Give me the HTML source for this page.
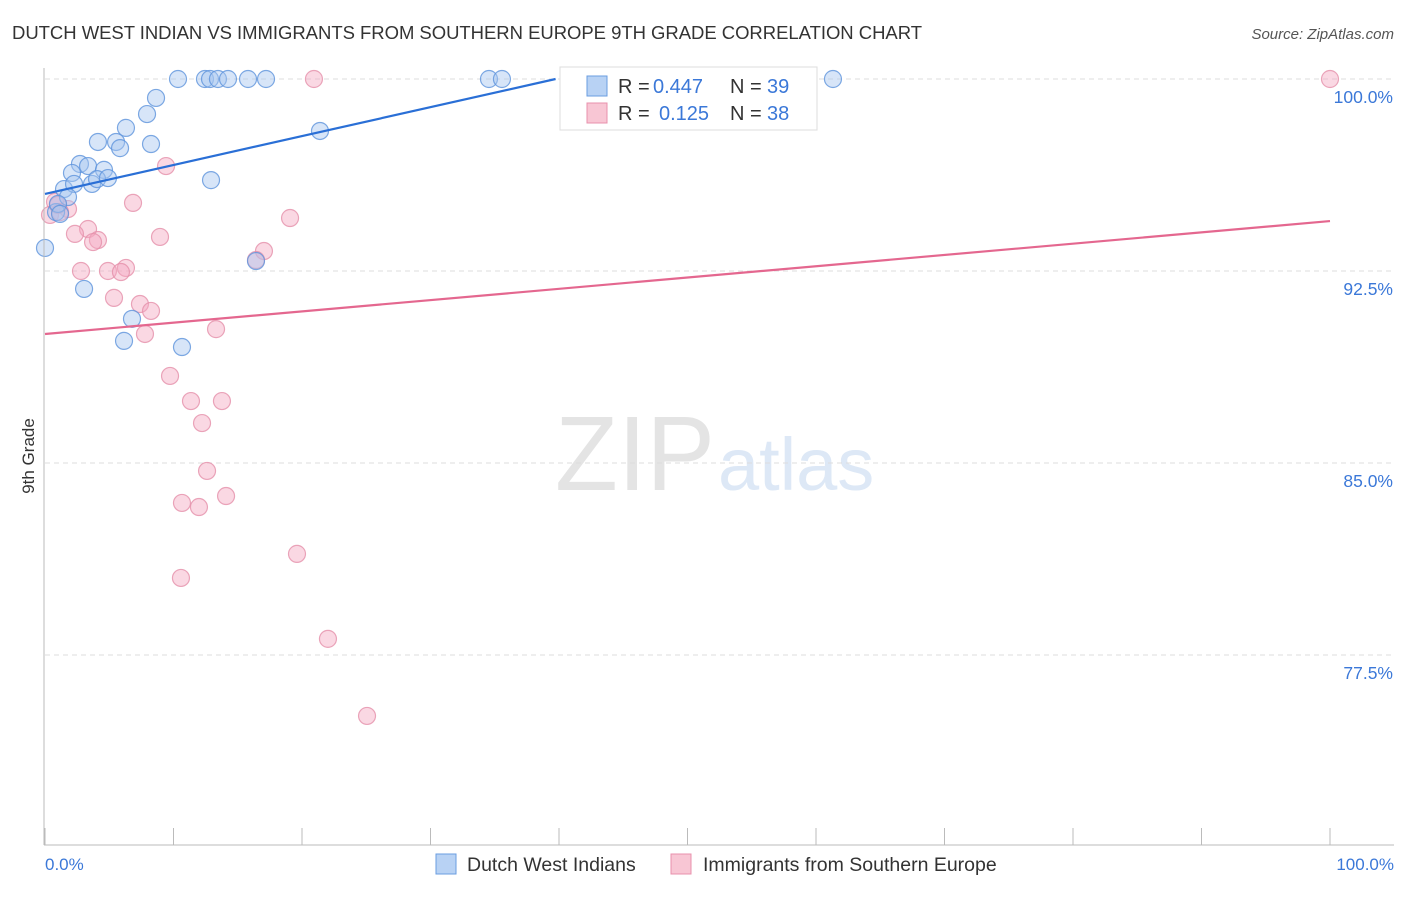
<!DOCTYPE html>
<html><head><meta charset="utf-8"><style>
body{margin:0;background:#fff;font-family:"Liberation Sans",sans-serif}
svg text{font-family:"Liberation Sans",sans-serif}
</style></head><body>
<svg id="c" width="1406" height="892">
<text x="12" y="39" font-size="18.5" fill="#333" textLength="910">DUTCH WEST INDIAN VS IMMIGRANTS FROM SOUTHERN EUROPE 9TH GRADE CORRELATION CHART</text>
<text x="1394" y="39" font-size="15" fill="#555" font-style="italic" text-anchor="end">Source: ZipAtlas.com</text>
<text x="555" y="490" font-size="106" fill="#e4e4e4" textLength="160" lengthAdjust="spacingAndGlyphs" font-family="Liberation Serif">ZIP</text>
<text x="718" y="490" font-size="74" fill="#dde8f6">atlas</text>
<text x="34" y="456" font-size="17" fill="#333" transform="rotate(-90 34 456)" text-anchor="middle">9th Grade</text>
<g id="grid"></g><g id="pts"></g><g id="lines"></g>
<line x1="44" y1="68" x2="44" y2="845" stroke="#bbb"/>
<line x1="44" y1="845" x2="1394" y2="845" stroke="#bbb"/>
<text x="45" y="870" font-size="17" fill="#3b78d8">0.0%</text>
<text x="1394" y="870" font-size="17" fill="#3b78d8" text-anchor="end">100.0%</text>
<g>
<rect x="560" y="67" width="257" height="63" fill="#fff" stroke="#ddd"/>
<rect x="587" y="76" width="20" height="20" fill="#b8d2f4" stroke="#6a9de0"/>
<rect x="587" y="103" width="20" height="20" fill="#f8c6d4" stroke="#e890ac"/>
<text x="618" y="93" font-size="20" fill="#333">R =</text>
<text x="653" y="93" font-size="20" fill="#3b78d8">0.447</text>
<text x="730" y="93" font-size="20" fill="#333">N =</text>
<text x="767" y="93" font-size="20" fill="#3b78d8">39</text>
<text x="618" y="120" font-size="20" fill="#333">R =</text>
<text x="659" y="120" font-size="20" fill="#3b78d8">0.125</text>
<text x="730" y="120" font-size="20" fill="#333">N =</text>
<text x="767" y="120" font-size="20" fill="#3b78d8">38</text>
</g>
<g>
<rect x="436" y="854" width="20" height="20" fill="#b8d2f4" stroke="#6a9de0"/>
<text x="467" y="871" font-size="19.5" fill="#333">Dutch West Indians</text>
<rect x="671" y="854" width="20" height="20" fill="#f8c6d4" stroke="#e890ac"/>
<text x="703" y="871" font-size="19.5" fill="#333">Immigrants from Southern Europe</text>
</g>
</svg>
<script>
const yTicks=[100,92.5,85,77.5];
const yTickLabels=["100.0%","92.5%","85.0%","77.5%"];
const xTicks=[0,10,20,30,40,50,60,70,80,90,100];
const blueX=[10.35,12.45,12.84,13.46,14.24,15.80,17.20,34.55,35.56,61.32,8.64,7.94,6.30,4.12,5.53,5.84,8.25,21.40,2.72,3.35,2.10,4.59,1.48,2.26,3.66,4.05,4.90,1.79,0.86,1.01,1.17,12.92,0,3.04,6.77,6.15,10.66,16.42];
const blueY=[100,100,100,100,100,100,100,100,100,100,99.26,98.63,98.09,97.54,97.54,97.30,97.46,97.97,96.68,96.60,96.33,96.45,95.70,95.90,95.90,96.09,96.13,95.39,94.80,95.12,94.73,96.05,93.40,91.80,90.63,89.77,89.53,92.89];
const pinkX=[20.93,100,9.42,6.85,0.78,1.79,0.39,1.17,19.07,3.35,2.33,4.12,3.74,8.95,17.04,2.80,4.90,6.30,5.91,5.37,7.39,8.25,7.78,13.31,9.73,11.36,13.77,12.22,12.61,14.09,10.66,11.98,19.61,10.58,22.02,25.06,16.42,1.01];
const pinkY=[100,100,96.60,95.16,95.20,94.92,94.69,94.80,94.57,94.14,93.95,93.71,93.63,93.83,93.28,92.50,92.50,92.62,92.46,91.45,91.21,90.94,90.04,90.23,88.40,87.42,87.42,86.56,84.69,83.71,83.44,83.28,81.45,80.51,78.13,75.12,92.93,95.08];
const blueLine=[95.51,0.113];
const pinkLine=[90.04,0.0441];
const NS="http://www.w3.org/2000/svg";
const sx=v=>45+v*12.85, sy=v=>79+(100-v)*25.6;
function mk(t,a,p){const e=document.createElementNS(NS,t);for(const k in a)e.setAttribute(k,a[k]);document.getElementById(p).appendChild(e);return e;}
yTicks.forEach((v,i)=>{
 const l=mk('line',{x1:45,x2:1394,y1:sy(v),y2:sy(v),stroke:'#ddd','stroke-dasharray':'5,4'},'grid');
 
 
 const t=mk('text',{x:1393,y:sy(v)+24,'font-size':17.5,fill:'#3b78d8','text-anchor':'end'},'grid');t.textContent=yTickLabels[i];
 
 
});
xTicks.forEach(v=>{
 const l=mk('line',{x1:sx(v),x2:sx(v),y1:828,y2:845,stroke:'#bbb'},'grid');
 
 
});
function dots(X,Y,f,s,n){X.forEach((x,i)=>{
 const c=mk('circle',{cx:sx(x),cy:sy(Y[i]),r:8.5,fill:f,'fill-opacity':0.45,stroke:s,'stroke-width':1.2,'stroke-opacity':0.8},'pts');
 
 
});}
dots(pinkX,pinkY,'#f4a9c0','#e590aa','pink-point');
dots(blueX,blueY,'#a6c6f0','#5e94dc','blue-point');
let bxEnd=Math.min(100,(100-blueLine[0])/blueLine[1]);
const bl=mk('line',{x1:sx(0),y1:sy(blueLine[0]),x2:sx(bxEnd),y2:sy(blueLine[0]+blueLine[1]*bxEnd),stroke:'#2a6fd6','stroke-width':2.2},'lines');


const pl=mk('line',{x1:sx(0),y1:sy(pinkLine[0]),x2:sx(100),y2:sy(pinkLine[0]+pinkLine[1]*100),stroke:'#e4678f','stroke-width':2.2},'lines');


</script>
</body></html>
